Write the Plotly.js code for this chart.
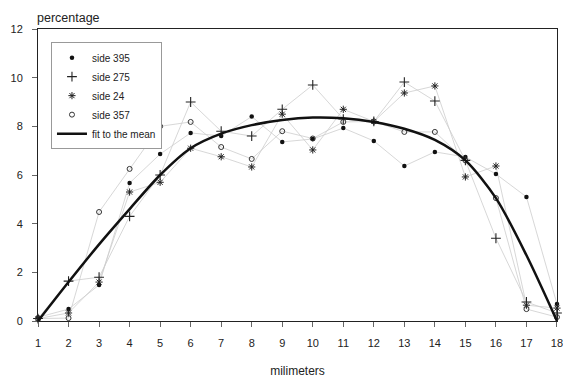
<!DOCTYPE html>
<html>
<head>
<meta charset="utf-8">
<script src="https://cdn.plot.ly/plotly-3.0.1.min.js"></script>
<style>html,body{margin:0;padding:0;background:#fff;}#chart{width:563px;height:378px;}</style>
</head>
<body>
<div id="chart"></div>
<script>
// millimetre positions
const millimeters = [1,2,3,4,5,6,7,8,9,10,11,12,13,14,15,16,17,18];
// percentage per side
const side395 = [0.15,0.49,1.48,5.67,6.86,7.73,7.6,8.4,7.36,7.48,7.93,7.4,6.37,6.95,6.74,6.04,5.1,0.7];
const side275 = [0.1,1.64,1.8,4.3,6.0,9.0,7.8,7.6,8.7,9.7,8.3,8.2,9.82,9.04,6.6,3.4,0.78,0.33];
const side24  = [0.1,0.33,1.6,5.3,5.7,7.1,6.75,6.33,8.5,7.03,8.7,8.2,9.37,9.66,5.92,6.37,0.65,0.53];
const side357 = [0.1,0.12,4.48,6.25,8.0,8.18,7.15,6.66,7.8,7.5,8.18,8.2,7.77,7.77,6.6,5.05,0.49,0.16];
const fitMean = [0,1.6,3.15,4.6,6.0,7.1,7.7,8.05,8.26,8.36,8.33,8.18,7.9,7.44,6.6,5.05,2.7,0];
const seriesNames = ['side 395','side 275','side 24','side 357'];
const tickVals = millimeters;

const seriesData = [side395, side275, side24, side357];
const markerStyles = [
  {symbol:'circle', size:4.5, color:'#111'},
  {symbol:'cross-thin-open', size:7, color:'#222', line:{width:1.1, color:'#222'}},
  {symbol:'asterisk-open', size:6, color:'#222', line:{width:1, color:'#222'}},
  {symbol:'circle-open', size:5, color:'#333', line:{width:1, color:'#333'}}
];

const traces = [];
seriesData.forEach((ys, i) => {
  traces.push({
    x: millimeters, y: ys, type:'scatter', mode:'lines',
    line:{color:'#cdcdcd', width:0.8}, showlegend:false, hoverinfo:'skip'
  });
});
seriesData.forEach((ys, i) => {
  traces.push({
    x: millimeters, y: ys, type:'scatter', mode:'markers', name: seriesNames[i],
    marker: markerStyles[i], cliponaxis:false
  });
});
traces.push({
  x: millimeters, y: fitMean, type:'scatter', mode:'lines', name:'fit to the mean',
  line:{color:'#111', width:2.5, shape:'spline', smoothing:0.8}
});

const font = {family:'Liberation Sans, Arial, sans-serif', color:'#222'};
const layout = {
  width:563, height:378,
  margin:{l:38, r:6, t:29, b:57},
  paper_bgcolor:'#fff', plot_bgcolor:'#fff',
  font: Object.assign({size:11}, font),
  title:{text:'percentage', x:37/563, xanchor:'left', xref:'container', y:1-18/378, yanchor:'middle',
         font:Object.assign({size:12.5}, font)},
  xaxis:{range:[0.9995,18.0005], tickvals:tickVals, showgrid:false, zeroline:false,
         showline:true, mirror:true, linecolor:'#222', linewidth:1,
         ticks:'outside', ticklen:5, tickcolor:'#666', ticklabelstandoff:7, ticklabeloverflow:'allow',
         tickfont:Object.assign({size:11}, font),
         title:{text:'milimeters', standoff:22, font:Object.assign({size:12}, font)}},
  yaxis:{range:[0,12], dtick:2, tick0:0, showgrid:false, zeroline:false,
         showline:true, mirror:true, linecolor:'#222', linewidth:1,
         ticks:'outside', ticklen:5, tickcolor:'#666', ticklabelstandoff:7,
         tickfont:Object.assign({size:11}, font)},
  legend:{x:0.025, y:0.955, xanchor:'left', yanchor:'top', bgcolor:'#fff',
          bordercolor:'#999', borderwidth:1, itemwidth:30, tracegroupgap:0,
          font:Object.assign({size:10}, font)},
  showlegend:true
};
Plotly.newPlot('chart', traces, layout, {displayModeBar:false, staticPlot:true});
</script>
</body>
</html>
